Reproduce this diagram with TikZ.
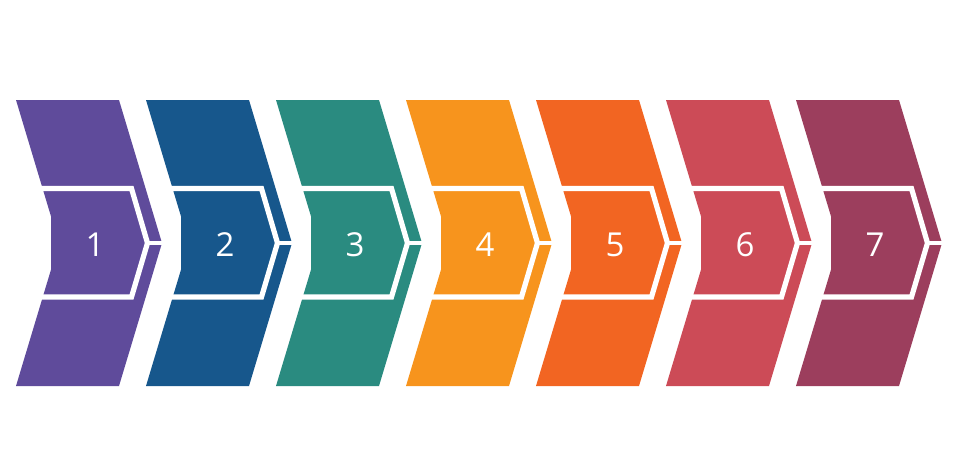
\documentclass[tikz,border=0pt]{standalone}
\usepackage{fontspec}
\setmainfont{Open Sans}
\definecolor{cA}{HTML}{5F4B9B}
\definecolor{cB}{HTML}{17578C}
\definecolor{cC}{HTML}{2A8B80}
\definecolor{cD}{HTML}{F7941D}
\definecolor{cE}{HTML}{F26522}
\definecolor{cF}{HTML}{CC4B57}
\definecolor{cG}{HTML}{9C3E5D}
\tikzset{
  band/.style={draw=white,line width=2.6pt,miter limit=10,line join=miter},
  tipline/.style={draw=white,line width=1.8pt},
  numlabel/.style={text=white,font=\fontsize{16.5}{20}\selectfont,inner sep=0pt}
}
\begin{document}
\begin{tikzpicture}[x=0.5pt,y=-0.5pt]
\useasboundingbox (0,0) rectangle (960,468);
\foreach \i/\c in {1/cA,2/cB,3/cC,4/cD,5/cE,6/cF,7/cG}{
  \begin{scope}[xshift={(\i-1)*65pt}]
    \fill[\c] (16,100) -- (119,100) -- (162,243) -- (119,386) -- (16,386) -- (59,243) -- cycle;
    \fill[\c] (51,191) -- (128,191) -- (145,243) -- (128,294) -- (51,294) -- cycle;
    \coordinate (tip\i) at (147.5,243);
    \coordinate (end\i) at (166,243);
    \draw[band] (36,188.5) -- (131.5,188.5) -- (tip\i) -- (131.5,297) -- (36,297);
    \draw[tipline] (tip\i) -- (end\i);
    \node[numlabel] (n\i) at (95,245) {\i};
  \end{scope}
}
\end{tikzpicture}
\end{document}
